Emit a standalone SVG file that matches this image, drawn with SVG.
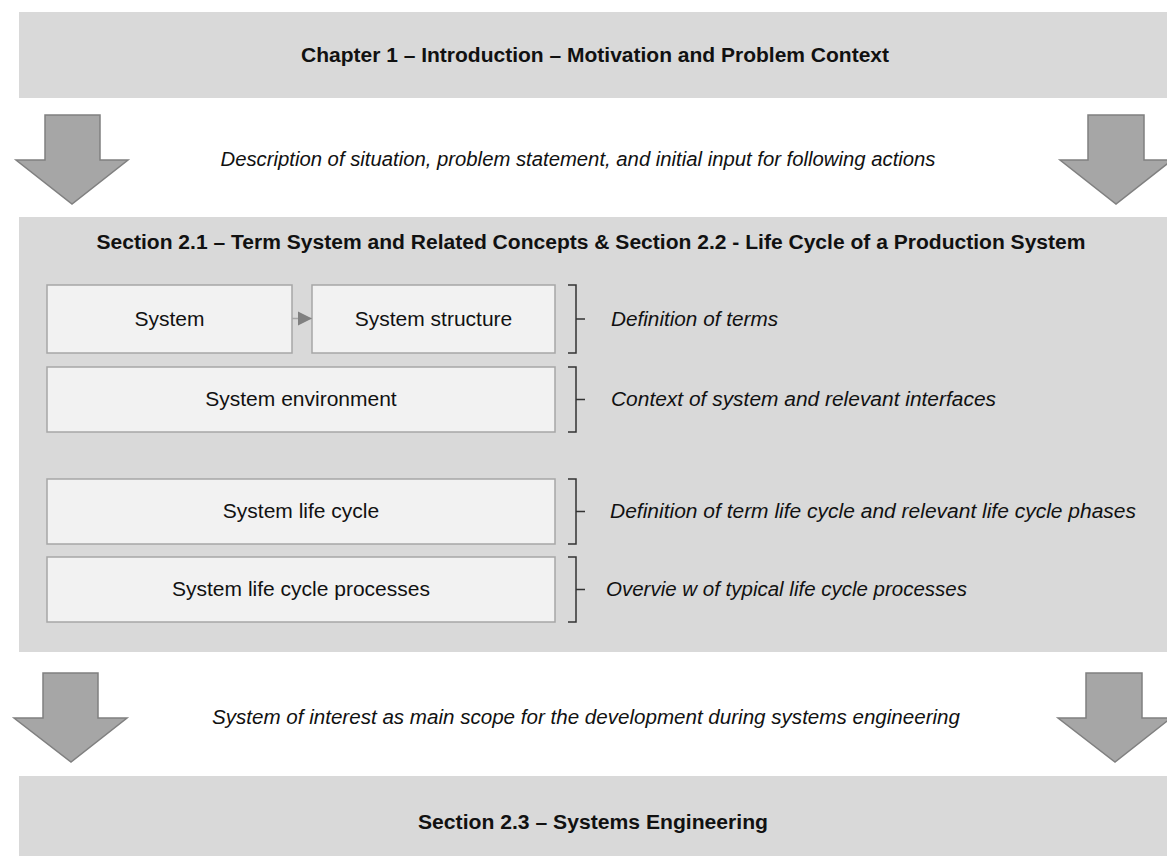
<svg xmlns="http://www.w3.org/2000/svg" width="1167" height="856" viewBox="0 0 1167 856">
  <style>
    .band { fill: #d9d9d9; }
    .box { fill: #f2f2f2; stroke: #a6a6a6; stroke-width: 1.5; }
    .flow { fill: #a6a6a6; stroke: #808080; stroke-width: 1.5; stroke-linejoin: miter; }
    .brace { fill: none; stroke: #333333; stroke-width: 1.5; }
    .head { font-family: "Liberation Sans", Arial, sans-serif; font-weight: bold; font-size: 20px; fill: #111; text-anchor: middle; }
    .lbl { font-family: "Liberation Sans", Arial, sans-serif; font-size: 21px; fill: #111; text-anchor: middle; }
    .note { font-family: "Liberation Sans", Arial, sans-serif; font-style: italic; font-size: 20px; fill: #111; }
    .mid { text-anchor: middle; }
  </style>
  <defs>
    <marker id="tri" viewBox="0 0 10 10" refX="10" refY="5" markerWidth="14" markerHeight="15" markerUnits="userSpaceOnUse" orient="auto">
      <path d="M0,0 L10,5 L0,10 Z" fill="#808080"/>
    </marker>
  </defs>
  <rect width="1167" height="856" fill="#ffffff"/>

  <!-- chapter 1 band -->
  <g id="chapter1">
    <rect class="band" x="19" y="12" width="1148" height="86"/>
    <text class="head" x="595" y="62" textLength="588" lengthAdjust="spacingAndGlyphs">Chapter 1 – Introduction  – Motivation and Problem Context</text>
  </g>

  <!-- downward block arrows, first transition -->
  <g id="flow1">
    <path class="flow" d="M45,115 H100 V160 H128 L72,204 L16,160 H45 Z"/>
    <path class="flow" d="M1088,115 H1144 V160 H1172 L1116,204 L1060,160 H1088 Z"/>
    <text class="note mid" x="578" y="166" textLength="715" lengthAdjust="spacingAndGlyphs">Description of situation, problem statement, and initial input for following actions</text>
  </g>

  <!-- sections 2.1 and 2.2 band -->
  <g id="section21">
    <rect class="band" x="19" y="217" width="1148" height="435"/>
    <text class="head" x="591" y="249" textLength="989" lengthAdjust="spacingAndGlyphs">Section 2.1 – Term System and Related Concepts &amp; Section 2.2  - Life Cycle of a Production System</text>
  </g>

  <g id="system">
    <rect class="box" x="47" y="285" width="245" height="68"/>
    <text class="lbl" x="169.5" y="326">System</text>
  </g>
  <g id="system-structure">
    <rect class="box" x="312" y="285" width="243" height="68"/>
    <text class="lbl" x="433.5" y="326">System structure</text>
  </g>
  <g id="system-environment">
    <rect class="box" x="47" y="367" width="508" height="65"/>
    <text class="lbl" x="301" y="406">System environment</text>
  </g>
  <g id="system-life-cycle">
    <rect class="box" x="47" y="479" width="508" height="65"/>
    <text class="lbl" x="301" y="518">System life cycle</text>
  </g>
  <g id="system-life-cycle-processes">
    <rect class="box" x="47" y="557" width="508" height="65"/>
    <text class="lbl" x="301" y="596">System life cycle processes</text>
  </g>

  <!-- brackets with annotations -->
  <g id="notes">
    <path class="brace" d="M568,285 H576 V353 H568 M576,319 H585"/>
    <text class="note" x="611" y="326" textLength="167" lengthAdjust="spacingAndGlyphs">Definition of terms</text>
    <path class="brace" d="M568,367 H576 V432 H568 M576,399.5 H585"/>
    <text class="note" x="611" y="406" textLength="385" lengthAdjust="spacingAndGlyphs">Context of system and relevant interfaces</text>
    <path class="brace" d="M568,479 H576 V544 H568 M576,511.5 H585"/>
    <text class="note" x="610" y="518" textLength="526" lengthAdjust="spacingAndGlyphs">Definition of term life cycle and relevant  life cycle phases</text>
    <path class="brace" d="M568,557 H576 V622 H568 M576,589.5 H585"/>
    <text class="note" x="606" y="596" textLength="361" lengthAdjust="spacingAndGlyphs">Overvie w of typical life cycle processes</text>
  </g>

  <!-- connectors -->
  <g id="connectors">
    <line x1="292" y1="318.5" x2="312" y2="318.5" stroke="#a6a6a6" stroke-width="1.5" marker-end="url(#tri)"/>
  </g>

  <!-- downward block arrows, second transition -->
  <g id="flow2">
    <path class="flow" d="M43,673 H98 V718 H127 L71,762 L14,718 H43 Z"/>
    <path class="flow" d="M1086,673 H1142 V718 H1171 L1115,762 L1058,718 H1086 Z"/>
    <text class="note mid" x="586" y="724" textLength="748" lengthAdjust="spacingAndGlyphs">System of interest as main scope for the development during systems engineering</text>
  </g>

  <!-- section 2.3 band -->
  <g id="section23">
    <rect class="band" x="19" y="776" width="1148" height="80"/>
    <text class="head" x="593" y="829" textLength="350" lengthAdjust="spacingAndGlyphs">Section 2.3 – Systems Engineering</text>
  </g>
</svg>
